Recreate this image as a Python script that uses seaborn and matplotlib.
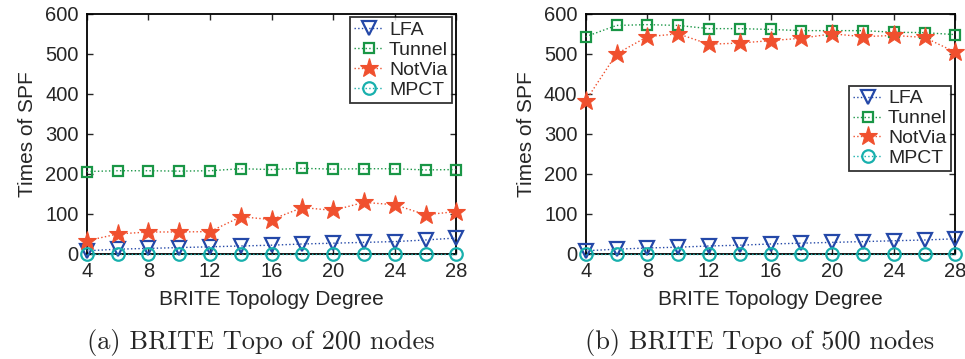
import matplotlib
matplotlib.use("Agg")
import matplotlib.pyplot as plt
import seaborn as sns
import pandas as pd

sns.set_style("ticks")
plt.rcParams["font.family"] = ["Liberation Sans", "DejaVu Sans"]

degrees = [4, 6, 8, 10, 12, 14, 16, 18, 20, 22, 24, 26, 28]

# 200 nodes
lfa_200 = [8, 12, 14, 16, 18, 20, 22, 25, 27, 29, 31, 35, 40]
tunnel_200 = [206, 208, 208, 207, 208, 213, 211, 214, 212, 213, 213, 210, 211]
notvia_200 = [33, 50, 55, 55, 56, 93, 86, 116, 109, 129, 123, 98, 106]
mpct_200 = [0, 0, 0, 0, 0, 0, 0, 0, 0, 0, 0, 0, 0]

# 500 nodes
lfa_500 = [8, 12, 15, 17, 20, 22, 25, 27, 29, 31, 33, 35, 38]
tunnel_500 = [543, 571, 573, 571, 563, 563, 561, 558, 558, 558, 554, 553, 548]
notvia_500 = [383, 500, 543, 550, 524, 527, 533, 539, 550, 543, 546, 541, 504]
mpct_500 = [0, 0, 0, 0, 0, 0, 0, 0, 0, 0, 0, 0, 0]

series_names = ["LFA", "Tunnel", "NotVia", "MPCT"]
styles = {
    "LFA": dict(color="#2448a8", marker="v", markersize=9.5, mfc="none", mew=1.6),
    "Tunnel": dict(color="#1a9646", marker="s", markersize=7.5, mfc="none", mew=1.6),
    "NotVia": dict(color="#f0502e", marker="*", markersize=14, mfc="#f0502e", mew=0.8),
    "MPCT": dict(color="#18b0ad", marker="o", markersize=9, mfc="none", mew=1.6),
}


def draw_panel(ax, values, caption, legend_anchor):
    for name, vals in zip(series_names, values):
        df = pd.DataFrame({"degree": degrees, "spf": vals})
        st = styles[name]
        sns.lineplot(data=df, x="degree", y="spf", ax=ax, label=name,
                     color=st["color"], marker=st["marker"], markersize=st["markersize"],
                     markerfacecolor=st["mfc"], markeredgecolor=st["color"],
                     markeredgewidth=st["mew"], linestyle=":", linewidth=1.0,
                     clip_on=False, zorder=3)
    ax.set_xlim(4, 28)
    ax.set_ylim(0, 600)
    ax.set_xticks(range(4, 29, 4))
    ax.set_yticks(range(0, 601, 100))
    ax.tick_params(direction="in", top=True, right=True, labelsize=14.5,
                   length=4, width=1, pad=6)
    for s in ax.spines.values():
        s.set_linewidth(1.3)
        s.set_color("black")
    ax.set_xlabel("BRITE Topology Degree", fontsize=15, labelpad=6)
    ax.set_ylabel("Times of SPF", fontsize=15, labelpad=6)
    leg = ax.legend(loc="upper right", bbox_to_anchor=legend_anchor, fontsize=14,
                    frameon=True, fancybox=False, edgecolor="black",
                    handlelength=1.5, handletextpad=0.3, borderpad=0.2,
                    labelspacing=0.12, borderaxespad=0)
    leg.get_frame().set_linewidth(1.3)
    ax.text(0.47, -0.367, caption, transform=ax.transAxes, ha="center", va="center",
            fontsize=19, family=["cmr10", "DejaVu Serif"])


fig = plt.figure(figsize=(9.65, 3.59), dpi=100)
ax1 = fig.add_axes([0.090, 0.2925, 0.383, 0.669])
ax2 = fig.add_axes([0.607, 0.2925, 0.383, 0.669])

draw_panel(ax1, [lfa_200, tunnel_200, notvia_200, mpct_200],
           "(a) BRITE Topo of 200 nodes", (0.988, 0.985))
draw_panel(ax2, [lfa_500, tunnel_500, notvia_500, mpct_500],
           "(b) BRITE Topo of 500 nodes", (0.988, 0.70))

fig.savefig("out.png", dpi=100)
